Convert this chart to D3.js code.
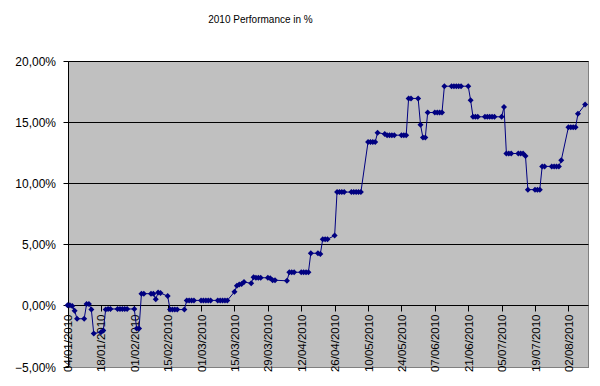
<!DOCTYPE html>
<html>
<head>
<meta charset="utf-8">
<script src="https://cdn.jsdelivr.net/npm/d3@7"></script>
<style>
  body { margin: 0; background: #fff; }
  text { font-family: "Liberation Sans", Arial, sans-serif; fill: #000; }
</style>
</head>
<body>
<div id="chart"></div>
<script>
// trading days (dd/mm) of 2010, one row per week
const days = [
  "04/01","05/01","06/01","07/01","08/01",
  "11/01","12/01","13/01","14/01","15/01",
  "18/01","19/01","20/01","21/01","22/01",
  "25/01","26/01","27/01","28/01","29/01",
  "01/02","02/02","03/02","04/02","05/02",
  "08/02","09/02","10/02","11/02","12/02",
  "15/02","16/02","17/02","18/02","19/02",
  "22/02","23/02","24/02","25/02","26/02",
  "01/03","02/03","03/03","04/03","05/03",
  "08/03","09/03","10/03","11/03","12/03",
  "15/03","16/03","17/03","18/03","19/03",
  "22/03","23/03","24/03","25/03","26/03",
  "29/03","30/03","31/03","01/04",
  "06/04","07/04","08/04","09/04",
  "12/04","13/04","14/04","15/04","16/04",
  "19/04","20/04","21/04","22/04","23/04",
  "26/04","27/04","28/04","29/04","30/04",
  "03/05","04/05","05/05","06/05","07/05",
  "10/05","11/05","12/05","13/05","14/05",
  "17/05","18/05","19/05","20/05","21/05",
  "24/05","25/05","26/05","27/05","28/05",
  "31/05","01/06","02/06","03/06","04/06",
  "07/06","08/06","09/06","10/06","11/06",
  "14/06","15/06","16/06","17/06","18/06",
  "21/06","22/06","23/06","24/06","25/06",
  "28/06","29/06","30/06","01/07","02/07",
  "05/07","06/07","07/07","08/07","09/07",
  "12/07","13/07","14/07","15/07","16/07",
  "19/07","20/07","21/07","22/07","23/07",
  "26/07","27/07","28/07","29/07","30/07",
  "02/08","03/08","04/08","05/08","06/08",
  "09/08"
];

// performance in %, same order as days
const perf = [
  0.0, 0.0, -0.05, -0.45, -1.1,
  -1.1, 0.1, 0.1, -0.35, -2.3,
  -2.2, -2.05, -0.35, -0.3, -0.3,
  -0.3, -0.3, -0.3, -0.3, -0.3,
  -0.3, -1.9, -1.9, 0.95, 0.95,
  0.95, 0.95, 0.5, 1.05, 1.0,
  0.75, -0.35, -0.35, -0.35, -0.35,
  -0.35, 0.4, 0.4, 0.4, 0.4,
  0.4, 0.4, 0.4, 0.4, 0.4,
  0.4, 0.4, 0.4, 0.4, 0.4,
  1.1, 1.6, 1.7, 1.75, 1.9,
  1.8, 2.3, 2.25, 2.25, 2.25,
  2.25, 2.2, 2.05, 2.05,
  2.0, 2.7, 2.7, 2.7,
  2.7, 2.7, 2.7, 2.7, 4.25,
  4.25, 4.2, 5.4, 5.4, 5.4,
  5.7, 9.25, 9.25, 9.25, 9.25,
  9.25, 9.25, 9.25, 9.25, 9.25,
  13.35, 13.35, 13.35, 13.35, 14.1,
  14.0, 13.9, 13.9, 13.9, 13.9,
  13.9, 13.9, 13.9, 16.9, 16.9,
  16.9, 14.75, 13.7, 13.7, 15.75,
  15.75, 15.75, 15.75, 15.75, 17.9,
  17.9, 17.9, 17.9, 17.9, 17.9,
  17.9, 16.75, 15.4, 15.4, 15.4,
  15.4, 15.4, 15.4, 15.4, 15.4,
  15.4, 16.2, 12.4, 12.4, 12.4,
  12.4, 12.4, 12.4, 12.2, 9.45,
  9.45, 9.45, 9.45, 11.35, 11.35,
  11.35, 11.35, 11.35, 11.35, 11.85,
  14.55, 14.55, 14.55, 14.55, 15.65,
  16.4
];

const yTicks = [-5, 0, 5, 10, 15, 20];
const xTicks = ["04/01","18/01","01/02","15/02","01/03","15/03","29/03","12/04",
                "26/04","10/05","24/05","07/06","21/06","05/07","19/07","02/08"];
const xStart = "04/01", xEnd = "10/08";

const width = 600, height = 386;
const parse = s => d3.timeParse("%d/%m/%Y")(s + "/2010");
const fmtDate = d3.timeFormat("%d/%m/%Y");
const fmtPct = v => d3.format(".2f")(v).replace(".", ",") + "%";

const data = days.map((d, i) => ({ date: parse(d), value: perf[i] }));

const x = d3.scaleTime()
  .domain([parse(xStart), parse(xEnd)])
  .range([67.5, 587.5]);

const y = d3.scaleLinear()
  .domain([-5, 20])
  .range([366.5, 60.5]);

const px = v => Math.round(v) + 0.5;

const svg = d3.select('#chart')
  .append('svg')
  .attr("width", width)
  .attr("height", height);

svg.append('rect')
  .attr('width', width)
  .attr('height', height)
  .attr('fill', '#fff');

svg.append('text')
  .attr('x', 260.5)
  .attr('y', 23)
  .style('text-anchor', 'middle')
  .style('font-size', '10px')
  .text('2010 Performance in %');

// plot area
svg.append('rect')
  .attr('x', px(x.range()[0]))
  .attr('y', px(y(20)))
  .attr('width', Math.round(x.range()[1]) - Math.round(x.range()[0]))
  .attr('height', Math.round(y(-5)) - Math.round(y(20)))
  .attr('fill', '#c0c0c0')
  .attr('stroke', '#808080');

// gridlines
svg.append('g')
  .selectAll('line')
  .data(yTicks.filter(t => t > 0))
  .enter()
  .append('line')
    .attr('x1', px(x.range()[0]))
    .attr('x2', px(x.range()[1]))
    .attr('y1', d => px(y(d)))
    .attr('y2', d => px(y(d)))
    .attr('stroke', '#000');

// y axis
const yAxis = svg.append('g');
yAxis.append('line')
  .attr('x1', px(x.range()[0])).attr('x2', px(x.range()[0]))
  .attr('y1', px(y(20))).attr('y2', px(y(-5)))
  .attr('stroke', '#000');
yAxis.selectAll('line.tick')
  .data(yTicks)
  .enter()
  .append('line')
    .attr('class', 'tick')
    .attr('x1', px(x.range()[0]) - 5).attr('x2', px(x.range()[0]))
    .attr('y1', d => px(y(d))).attr('y2', d => px(y(d)))
    .attr('stroke', '#000');
yAxis.selectAll('text')
  .data(yTicks)
  .enter()
  .append('text')
    .attr('x', 56)
    .attr('y', d => px(y(d)))
    .attr('dy', '0.35em')
    .style('text-anchor', 'end')
    .style('font-size', '12px')
    .text(d => fmtPct(d));

// x axis on the zero line
const y0 = px(y(0));
const xAxis = svg.append('g');
xAxis.append('line')
  .attr('x1', px(x.range()[0])).attr('x2', px(x.range()[1]))
  .attr('y1', y0).attr('y2', y0)
  .attr('stroke', '#000');
xAxis.selectAll('line.tick')
  .data(xTicks.map(parse))
  .enter()
  .append('line')
    .attr('class', 'tick')
    .attr('x1', d => px(x(d))).attr('x2', d => px(x(d)))
    .attr('y1', y0).attr('y2', y0 + 6)
    .attr('stroke', '#000');
xAxis.selectAll('text')
  .data(xTicks.map(parse))
  .enter()
  .append('text')
    .attr('transform', d => `translate(${x(d) + 0.5}, ${y0 + 9}) rotate(-90)`)
    .attr('dy', '0.35em')
    .style('text-anchor', 'end')
    .style('font-size', '11.5px')
    .text(d => fmtDate(d));

// series
const line = d3.line()
  .x(d => x(d.date))
  .y(d => y(d.value));

svg.append('path')
  .datum(data)
  .attr('fill', 'none')
  .attr('stroke', '#000080')
  .attr('stroke-width', 1)
  .attr('d', line);

svg.append('g')
  .selectAll('path')
  .data(data)
  .enter()
  .append('path')
    .attr('transform', d => `translate(${x(d.date)}, ${y(d.value)})`)
    .attr('d', 'M0,-3L3,0L0,3L-3,0Z')
    .attr('fill', '#000080');
</script>
</body>
</html>
